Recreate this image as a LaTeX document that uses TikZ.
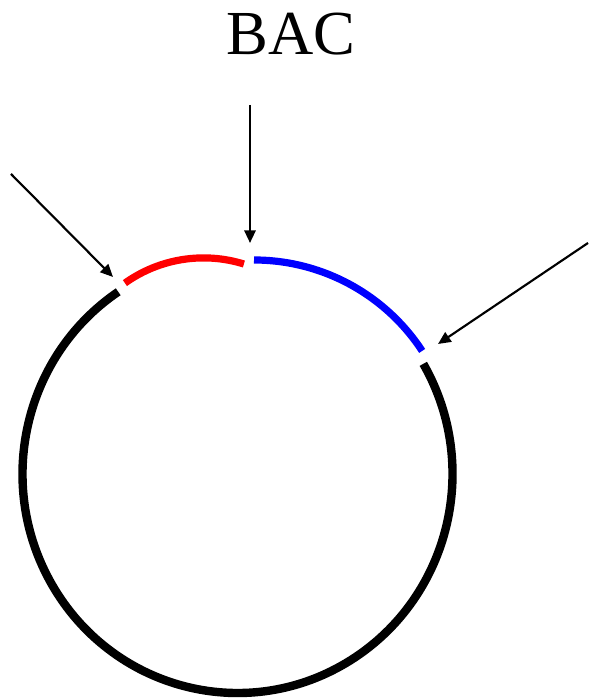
\documentclass[tikz,border=0pt]{standalone}
\usepackage{fontspec}
\setmainfont{Liberation Serif}
\usetikzlibrary{arrows.meta}
\tikzset{
  seg/.style={line width=6.3pt},
  segthin/.style={line width=5.4pt},
  pointer/.style={line width=1.6pt,-{Triangle[length=9.5pt,width=8.5pt]}}
}
\begin{document}
\begin{tikzpicture}[x=0.75pt,y=0.75pt]
\useasboundingbox (0,0) rectangle (588,698);
% title
\node[font=\fontsize{47}{50}\selectfont,inner sep=0pt,anchor=base] (title) at (291,643) {BAC};
% centres
\coordinate (cb) at (237.5,224);
\coordinate (cr) at (203.6,304.6);
\coordinate (cu) at (254,237);
% black arc
\draw[seg,black] ([shift={(30.2:215 and 219)}]cb) arc[start angle=30.2,end angle=-236.3,x radius=215,y radius=219];
% red arc
\draw[segthin,red] ([shift={(125.5:135.5)}]cr) arc[start angle=125.5,end angle=72.7,radius=135.5];
% blue arc
\draw[segthin,blue] ([shift={(90:201)}]cu) arc[start angle=90,end angle=33.2,radius=201];
% arrows
\coordinate (ls) at (11,524);
\coordinate (lt) at (113,421);
\coordinate (ms) at (250,593);
\coordinate (mt) at (250,455);
\coordinate (rs) at (588,455);
\coordinate (rt) at (438,354);
\draw[pointer] (ls) -- (lt);
\draw[pointer] (ms) -- (mt);
\draw[pointer] (rs) -- (rt);
\end{tikzpicture}
\end{document}
